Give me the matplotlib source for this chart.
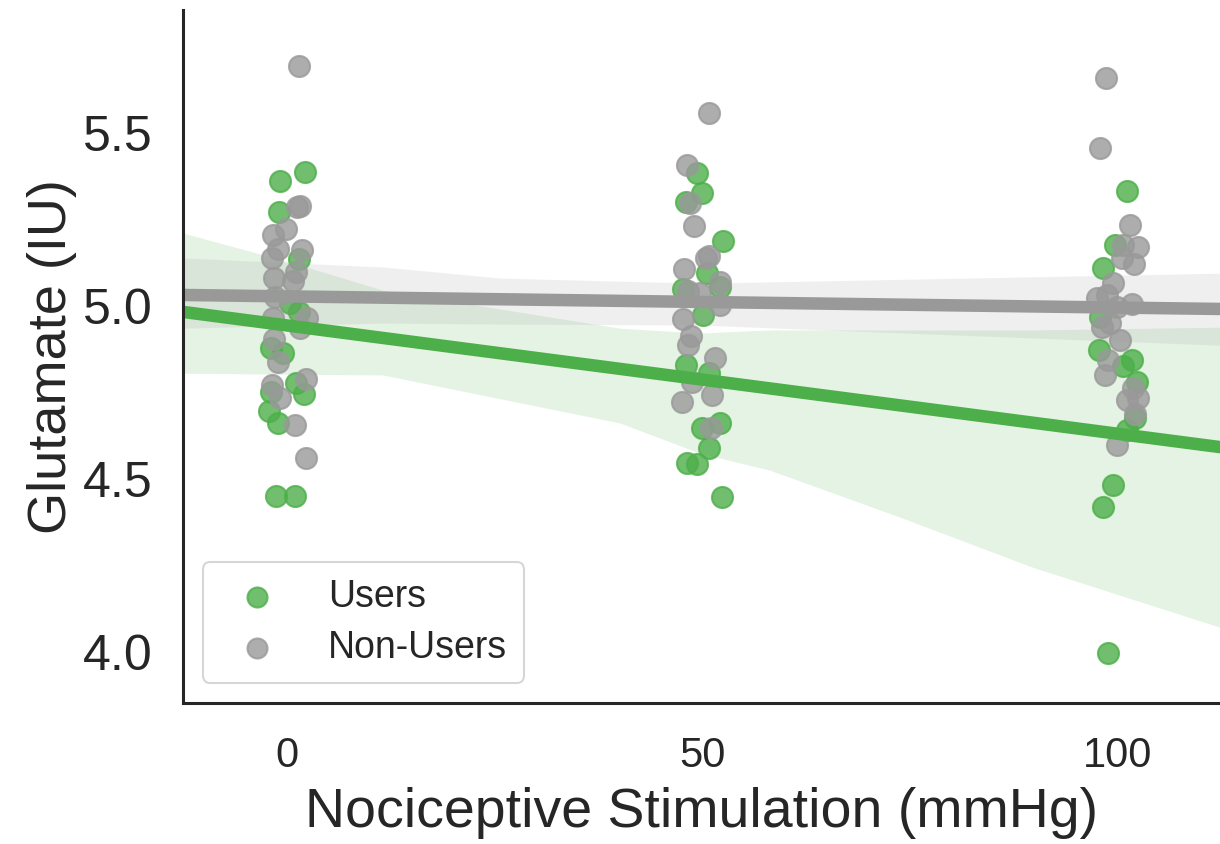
import numpy as np
import matplotlib.pyplot as plt

# jittered stimulation values and glutamate
users_x = [2.17, -0.84, -0.96, 1.44, 0.36, 1.44, -1.93, -0.48, 1.08, 2.05, -1.93, -2.17, -1.08, -1.32, 0.96,
           49.34, 49.94, 48.01, 52.47, 50.54, 52.11, 47.65, 50.06, 48.01, 50.78, 52.11, 49.94, 50.78, 48.13, 49.34, 52.35,
           101.08, 99.64, 98.19, 97.83, 97.71, 101.68, 100.60, 102.29, 102.05, 101.08, 99.40, 98.19, 98.80]
users_y = [5.387, 5.361, 5.272, 5.136, 5.009, 4.983, 4.879, 4.864, 4.777, 4.746, 4.751, 4.697, 4.662, 4.451, 4.451,
           5.384, 5.327, 5.301, 5.188, 5.095, 5.055, 5.049, 4.974, 4.829, 4.806, 4.662, 4.647, 4.590, 4.546, 4.543, 4.448,
           5.332, 5.176, 5.110, 4.968, 4.873, 4.844, 4.827, 4.780, 4.676, 4.642, 4.483, 4.419, 3.997]

nonusers_x = [1.44, 1.56, 1.20, -0.12, -1.68, -1.08, 1.81, -1.81, 1.08, -1.56, 0.72, -1.44, -1.68, 2.41, 1.56,
              -1.56, -1.08, -1.81, 2.29, -0.84, 0.96, 2.29,
              50.78, 48.13, 48.50, 48.98, 50.42, 50.78, 47.77, 52.11, 48.25, 49.70, 52.11, 47.65, 48.62, 48.25,
              51.50, 48.74, 51.14, 47.53, 51.02,
              98.56, 97.83, 101.44, 100.60, 102.41, 100.48, 101.93, 99.40, 97.47, 98.68, 99.88, 101.68, 98.07,
              99.04, 100.24, 98.80, 98.44, 101.81, 101.08, 102.41, 102.05, 99.88]
nonusers_y = [5.694, 5.289, 5.286, 5.223, 5.205, 5.165, 5.162, 5.139, 5.098, 5.081, 5.072, 5.026, 4.965, 4.965, 4.936,
              4.905, 4.838, 4.772, 4.789, 4.734, 4.656, 4.561,
              5.558, 5.408, 5.298, 5.231, 5.139, 5.145, 5.107, 5.069, 5.043, 5.038, 5.003, 4.962, 4.913, 4.887,
              4.850, 4.780, 4.743, 4.723, 4.647,
              5.659, 5.457, 5.234, 5.176, 5.171, 5.139, 5.121, 5.066, 5.023, 5.032, 4.997, 5.006, 4.939,
              4.951, 4.902, 4.844, 4.801, 4.763, 4.728, 4.734, 4.688, 4.598]

# fitted lines (intercept, slope) and confidence bands as drawn
users_fit = (4.944, -0.00313)
nonusers_fit = (5.028, -0.000324)

users_band_x = [-12.5, 0.36, 11.55, 40.1, 49.7, 58.1, 73.8, 89.8, 112.3]
users_hi = [5.211, 5.127, 5.046, 4.936, 4.922, 4.931, 4.931, 4.931, 4.939]
users_lo = [4.806, 4.803, 4.801, 4.662, 4.575, 4.526, 4.390, 4.245, 4.072]

nonusers_band_x = [-12.5, 11.55, 25.6, 49.7, 112.3]
nonusers_hi = [5.139, 5.113, 5.081, 5.066, 5.095]
nonusers_lo = [4.936, 4.951, 4.948, 4.945, 4.887]

green = '#4daf4a'
grey = '#999999'

plt.rcParams['font.family'] = ['Liberation Sans', 'DejaVu Sans']
plt.rcParams['text.color'] = '#262626'
plt.rcParams['axes.labelcolor'] = '#262626'

fig = plt.figure(figsize=(12.2, 8.44), dpi=100)
ax = fig.add_axes([0.15, 0.167, 0.85, 0.821])
xlim = (-12.5, 112.3)
xs = np.linspace(xlim[0], xlim[1], 100)

groups = [
    ('Users', users_x, users_y, users_fit, users_band_x, users_lo, users_hi, green),
    ('Non-Users', nonusers_x, nonusers_y, nonusers_fit, nonusers_band_x, nonusers_lo, nonusers_hi, grey),
]
for label, x, y, fit, bx, lo, hi, col in groups:
    ax.scatter(x, y, s=230, color=col, alpha=0.8, linewidths=1.5, label=label)
    ax.fill_between(bx, lo, hi, color=col, alpha=0.15, linewidth=0)
    ax.plot(xs, fit[0] + fit[1] * xs, color=col, lw=9)

ax.set_xlim(*xlim)
ax.set_ylim(3.853, 5.855)
ax.set_xticks([0, 50, 100])
ax.set_yticks([4.0, 4.5, 5.0, 5.5])
ax.tick_params(axis='x', length=0, pad=24, labelsize=30, labelcolor='#262626')
ax.tick_params(axis='y', length=0, pad=22, labelsize=36, labelcolor='#262626')
ax.set_xlabel('Nociceptive Stimulation (mmHg)', fontsize=40, labelpad=8)
ax.set_ylabel('Glutamate (IU)', fontsize=39, labelpad=4)

for side in ['top', 'right']:
    ax.spines[side].set_visible(False)
for side in ['left', 'bottom']:
    ax.spines[side].set_linewidth(2.2)
    ax.spines[side].set_color('#262626')

leg = ax.legend(loc='lower left', bbox_to_anchor=(0.019, 0.029), borderaxespad=0,
                fontsize=27, handletextpad=0.9, labelspacing=0.4, borderpad=0.45,
                markerscale=0.95, frameon=True, fancybox=True)
leg.get_frame().set_edgecolor('#cccccc')
leg.get_frame().set_linewidth(1.5)

fig.savefig('out.png', dpi=100)
